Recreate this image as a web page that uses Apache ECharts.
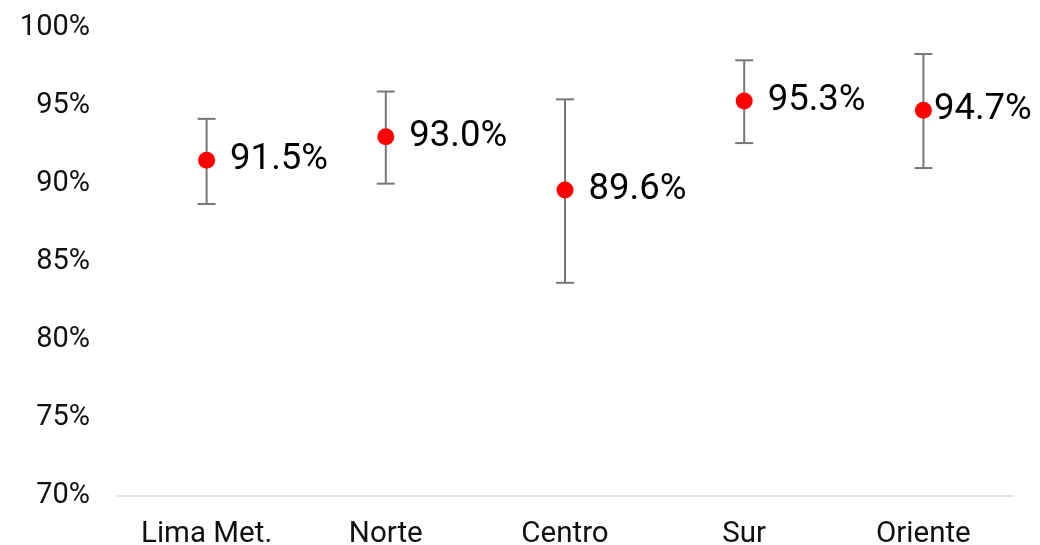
<!DOCTYPE html>
<html><head><meta charset="utf-8">
<script src="https://cdn.jsdelivr.net/npm/echarts@6/dist/echarts.min.js"></script>
<style>html,body{margin:0;padding:0;background:#fff}#c{width:1040px;height:545px}</style>
</head><body><div id="c"></div>
<script>
const categories = ['Lima Met.', 'Norte', 'Centro', 'Sur', 'Oriente'];
const values = [91.5, 93.0, 89.6, 95.3, 94.7];
const lower = [88.7, 90.0, 83.65, 92.6, 91.0];
const upper = [94.15, 95.9, 95.4, 97.9, 98.3];
const yTicks = [70, 75, 80, 85, 90, 95, 100];

const chart = echarts.init(document.getElementById('c'));
const errData = categories.map((c, i) => [i, lower[i], upper[i]]);
chart.setOption({
  animation: false,
  grid: { left: 117, right: 27, top: 27.5, bottom: 49, outerBoundsMode: 'none', containLabel: false },
  xAxis: {
    type: 'category', data: categories,
    axisLine: { lineStyle: { color: '#d9d9d9', width: 1.5 } },
    axisTick: { show: false },
    axisLabel: { color: '#111', fontSize: 29.5, fontFamily: 'Roboto', margin: 24 }
  },
  yAxis: {
    type: 'value', min: yTicks[0], max: yTicks[yTicks.length - 1], interval: 5,
    axisLine: { show: false }, axisTick: { show: false }, splitLine: { show: false },
    axisLabel: { color: '#111', fontSize: 29, fontFamily: 'Roboto', margin: 27, padding: [0, 0, 4, 0], formatter: '{value}%' }
  },
  series: [
    {
      type: 'custom',
      data: errData,
      z: 1,
      renderItem: function (params, api) {
        const x = api.value(0);
        const lo = api.coord([x, api.value(1)]);
        const hi = api.coord([x, api.value(2)]);
        const hw = 9;
        const style = { stroke: '#777', lineWidth: 2, fill: null };
        return {
          type: 'group',
          children: [
            { type: 'line', shape: { x1: lo[0], y1: lo[1], x2: hi[0], y2: hi[1] }, style },
            { type: 'line', shape: { x1: lo[0] - hw, y1: lo[1], x2: lo[0] + hw, y2: lo[1] }, style },
            { type: 'line', shape: { x1: hi[0] - hw, y1: hi[1], x2: hi[0] + hw, y2: hi[1] }, style }
          ]
        };
      }
    },
    {
      type: 'scatter',
      z: 3,
      symbolSize: 17,
      itemStyle: { color: '#ff0000', opacity: 1 },
      data: values.map((v, i) => ({
        value: [i, v],
        label: { distance: i === 4 ? 2 : 15 }
      })),
      label: {
        show: true, position: 'right', color: '#000', fontSize: 36.5, fontFamily: 'Roboto',
        formatter: p => p.value[1].toFixed(1) + '%'
      }
    }
  ]
});
</script></body></html>
